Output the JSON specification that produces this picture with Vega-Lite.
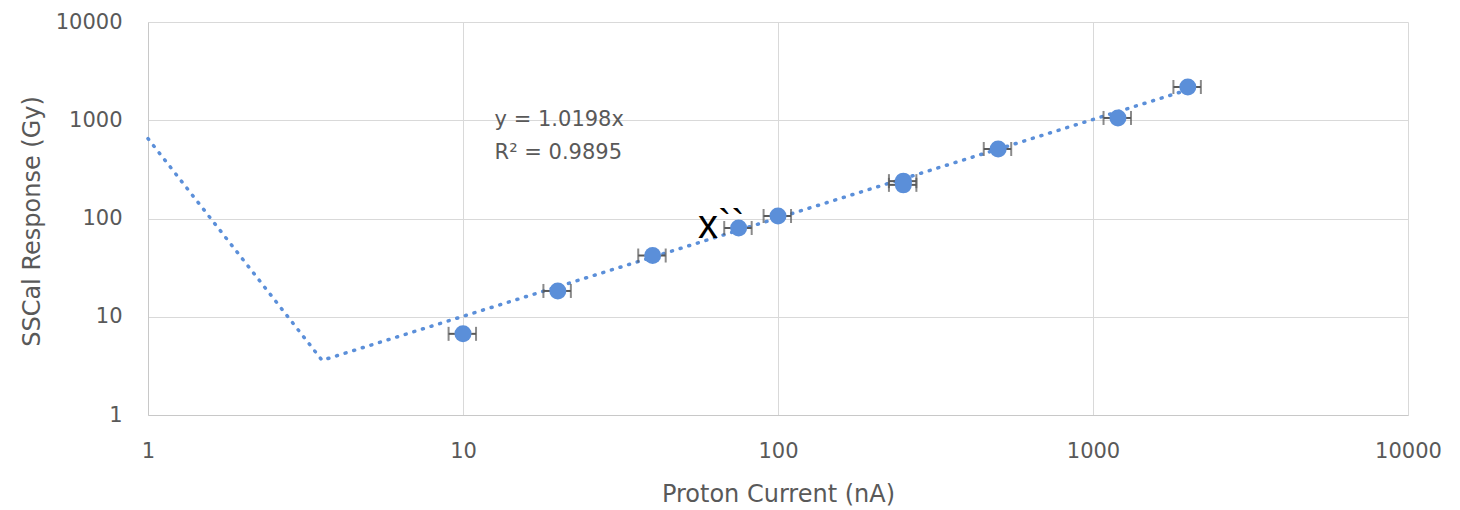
{
"$schema": "https://vega.github.io/schema/vega-lite/v6.json",
"width": 1260, "height": 393,
"autosize": {"type": "none"},
"padding": {"left": 148, "top": 22, "right": 52, "bottom": 95},
"background": "white",
"config": {
  "view": {"stroke": null},
  "font": "DejaVu Sans",
  "axis": {
    "gridColor": "#d9d9d9", "gridWidth": 1, "domainColor": "#c8c8c8", "domainWidth": 1,
    "tickSize": 0, "labelColor": "#595959", "labelFontSize": 21, "titleColor": "#595959",
    "titleFontSize": 24, "titleFontWeight": "normal", "labelFont": "DejaVu Sans", "titleFont": "DejaVu Sans",
    "labelFlush": false
  }
},
"datasets": {
  "trend": [{"x": 1, "y": 650}, {"x": 3.57, "y": 3.6}, {"x": 2000, "y": 2040}],
  "pts": [
    {"x": 10, "y": 6.7, "xlo": 9, "xhi": 11},
    {"x": 20, "y": 18.3, "xlo": 18, "xhi": 22},
    {"x": 40, "y": 42, "xlo": 36, "xhi": 44},
    {"x": 75, "y": 80, "xlo": 67.5, "xhi": 82.5},
    {"x": 100, "y": 106, "xlo": 90, "xhi": 110},
    {"x": 250, "y": 240, "xlo": 225, "xhi": 275},
    {"x": 250, "y": 220, "xlo": 225, "xhi": 275},
    {"x": 500, "y": 510, "xlo": 450, "xhi": 550},
    {"x": 1200, "y": 1055, "xlo": 1080, "xhi": 1320},
    {"x": 2000, "y": 2180, "xlo": 1800, "xhi": 2200}
  ],
  "eq": [{"x": 12.6, "y": 1006, "text": "y = 1.0198x"}, {"x": 12.6, "y": 464, "text": "R² = 0.9895"}],
  "note": [{"x": 55.7, "y": 63.2, "text": "x``"}]
},
"encoding": {
  "x": {"field": "x", "type": "quantitative", "title": "Proton Current (nA)",
    "scale": {"type": "log", "domain": [1, 10000], "nice": false},
    "axis": {"values": [1, 10, 100, 1000, 10000], "format": "d", "labelPadding": 25, "labelBaseline": "top", "titleY": 79, "titleBaseline": "middle"}},
  "y": {"field": "y", "type": "quantitative", "title": "SSCal Response (Gy)",
    "scale": {"type": "log", "domain": [1, 10000], "nice": false},
    "axis": {"values": [1, 10, 100, 1000, 10000], "format": "d", "labelPadding": 26, "titleX": -116, "titleY": 199, "titleAngle": -90, "titleBaseline": "middle", "titleAlign": "center"}}
},
"layer": [
  {"data": {"name": "trend"}, "mark": {"type": "line", "color": "#5b8fd9", "strokeWidth": 3.5, "strokeDash": [1, 8], "strokeCap": "round"}},
  {"data": {"name": "pts"}, "mark": {"type": "rule", "color": "#595959", "strokeWidth": 2},
    "encoding": {"x": {"field": "xlo", "type": "quantitative", "title": "Proton Current (nA)"}, "x2": {"field": "xhi"}}},
  {"data": {"name": "pts"}, "mark": {"type": "tick", "orient": "vertical", "color": "#595959", "thickness": 2, "size": 14},
    "encoding": {"x": {"field": "xlo", "type": "quantitative", "title": "Proton Current (nA)"}}},
  {"data": {"name": "pts"}, "mark": {"type": "tick", "orient": "vertical", "color": "#595959", "thickness": 2, "size": 14},
    "encoding": {"x": {"field": "xhi", "type": "quantitative", "title": "Proton Current (nA)"}}},
  {"data": {"name": "pts"}, "mark": {"type": "circle", "color": "#5b8fd9", "opacity": 1, "size": 290}},
  {"data": {"name": "eq"}, "mark": {"type": "text", "align": "left", "baseline": "middle", "fontSize": 21, "color": "#595959", "font": "DejaVu Sans"},
    "encoding": {"text": {"field": "text"}}},
  {"data": {"name": "note"}, "mark": {"type": "text", "align": "left", "baseline": "alphabetic", "fontSize": 40, "color": "#000000", "font": "Liberation Sans"},
    "encoding": {"text": {"field": "text"}}}
]
}
